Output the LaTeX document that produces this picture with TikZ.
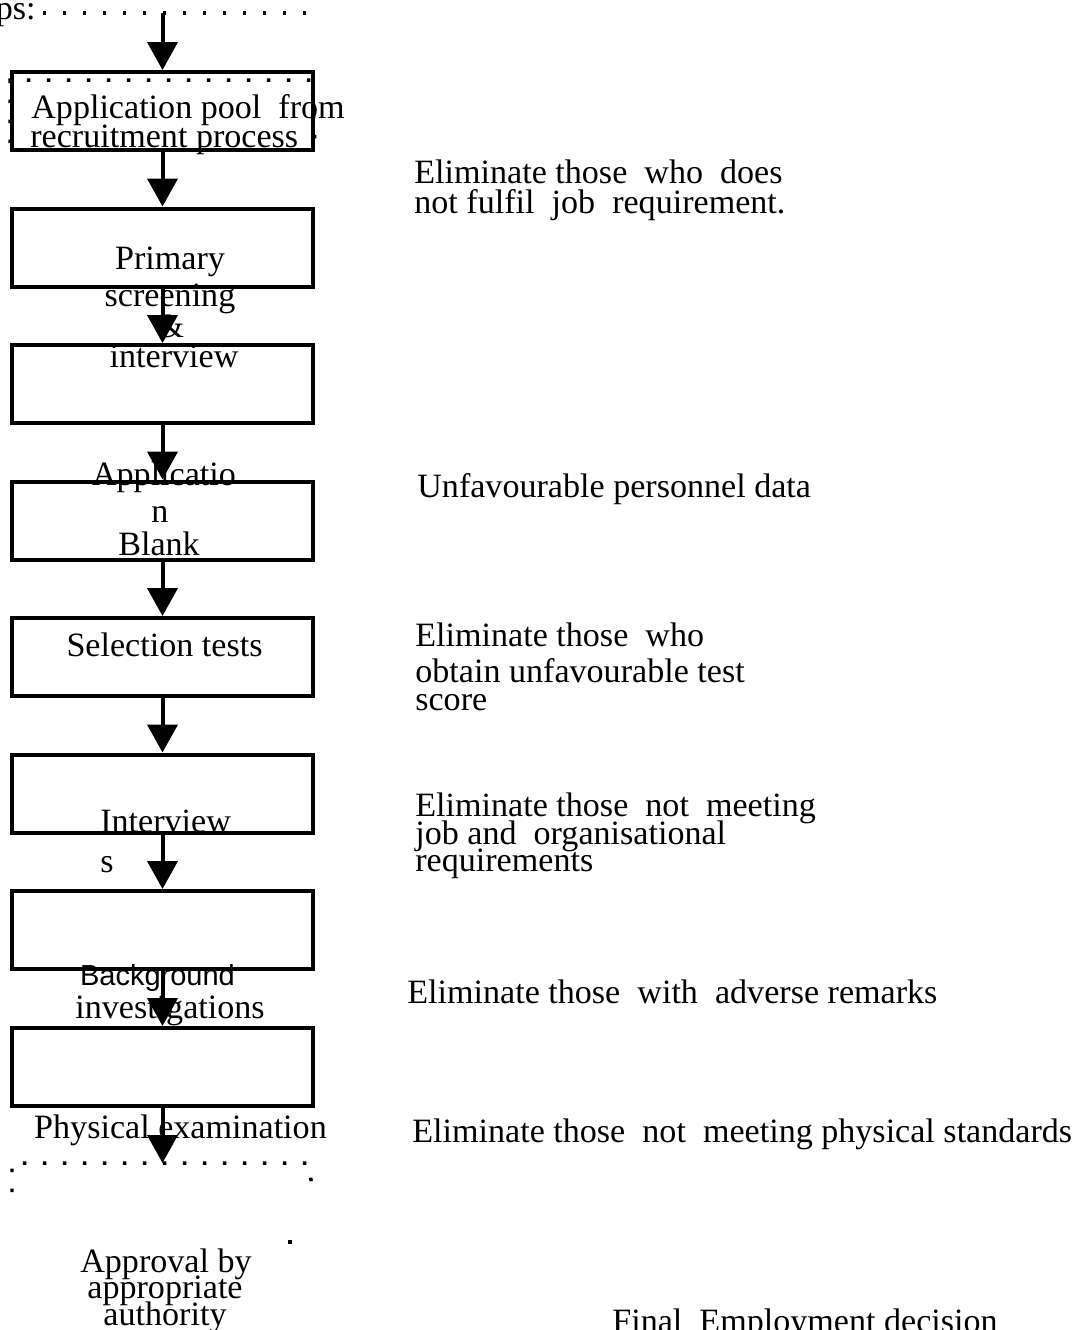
\documentclass[tikz,border=0pt]{standalone}
\usepackage{fontspec}
\setmainfont{Liberation Serif}
\setsansfont{Liberation Sans}
\usetikzlibrary{arrows.meta}

\begin{document}
\begin{tikzpicture}[x=0.02cm,y=-0.02cm]
  \tikzstyle{every node}=[font=\fontsize{19.4}{20}\selectfont, inner sep=0pt]
  \tikzstyle{stage}=[draw, line width=0.08cm, minimum width=6.02cm, minimum height=1.56cm]
  \tikzstyle{flow}=[line width=0.08cm, -{Triangle[width=0.6cm,length=0.56cm]}]
  \tikzstyle{dots}=[line width=0.07cm, dash pattern=on 0.07cm off 0.33cm]

  \clip (0,0) rectangle (1086,1330);
  \fill[white] (0,0) rectangle (1086,1330);

  % stages
  \foreach \i/\y in {1/111,2/247.5,3/384,4/520.5,5/657,6/793.5,7/930,8/1067}
    \node[stage] (b\i) at (162.5,\y) {};

  % texts of the stages
  \node[anchor=base east] (steps) at (36,19) {ps:};
  \node[anchor=base west] (pool1) at (31,118) {Application pool~ from};
  \node[anchor=base west] (pool2) at (30,147) {recruitment process};
  \node[anchor=base] (prim1) at (170,269) {Primary};
  \node[anchor=base] (prim2) at (170,306) {screening};
  \node[anchor=base] (prim3) at (171,337) {\&};
  \node[anchor=base] (prim4) at (174,367) {interview};
  \node[anchor=base] (blank1) at (164,485) {Applicatio};
  \node[anchor=base] (blank2) at (160,522) {n};
  \node[anchor=base] (blank3) at (159,555) {Blank};
  \node[anchor=base] (tests) at (164.5,656) {Selection tests};
  \node[anchor=base west] (intv1) at (100,832) {Interview};
  \node[anchor=base west] (intv2) at (100,872) {s};
  \node[anchor=base,font=\sffamily\fontsize{16.5}{18}\selectfont] (back1) at (157.5,985) {Background};
  \node[anchor=base] (back2) at (170,1018) {investigations};
  \node[anchor=base] (phys) at (180.5,1138) {Physical examination};
  \node[anchor=base] (appr1) at (166,1272) {Approval by};
  \node[anchor=base] (appr2) at (165,1298) {appropriate};
  \node[anchor=base] (appr3) at (165,1325) {authority};

  % eliminations
  \node[anchor=base west] (r1a) at (414,183) {Eliminate those~ who~ does};
  \node[anchor=base west] (r1b) at (414,213) {not fulfil~ job~ requirement.};
  \node[anchor=base west] (r2) at (417,497) {Unfavourable personnel data};
  \node[anchor=base west] (r3a) at (415,646) {Eliminate those~ who};
  \node[anchor=base west] (r3b) at (415,682) {obtain unfavourable test};
  \node[anchor=base west] (r3c) at (415,710) {score};
  \node[anchor=base west] (r4a) at (415,816) {Eliminate those~ not~ meeting};
  \node[anchor=base west] (r4b) at (415,844) {job and~ organisational};
  \node[anchor=base west] (r4c) at (415,871) {requirements};
  \node[anchor=base west] (r5) at (407,1003) {Eliminate those~ with~ adverse remarks};
  \node[anchor=base west] (r6) at (412,1142) {Eliminate those~ not~ meeting physical standards};
  \node[anchor=base west] (r7) at (612,1332) {Final~ Employment decision};

  % dotted frames
  \draw[dots] (43,13) -- (312,13);
  \draw[dots] (10,143) -- (10,80) -- (312,80) -- (315,146);
  \draw[dots] (12,1192) -- (12,1163) -- (308,1163) -- (314,1197);
  \fill (288,1240) rectangle (292,1244);

  % flow
  \coordinate (start) at (162.5,13);
  \coordinate (finish) at (162.5,1163);
  \draw[flow] (start) -- (b1);
  \foreach \i [evaluate=\i as \j using int(\i+1)] in {1,...,7}
    \draw[flow] (b\i) -- (b\j);
  \draw[flow] (b8) -- (finish);
\end{tikzpicture}
\end{document}
